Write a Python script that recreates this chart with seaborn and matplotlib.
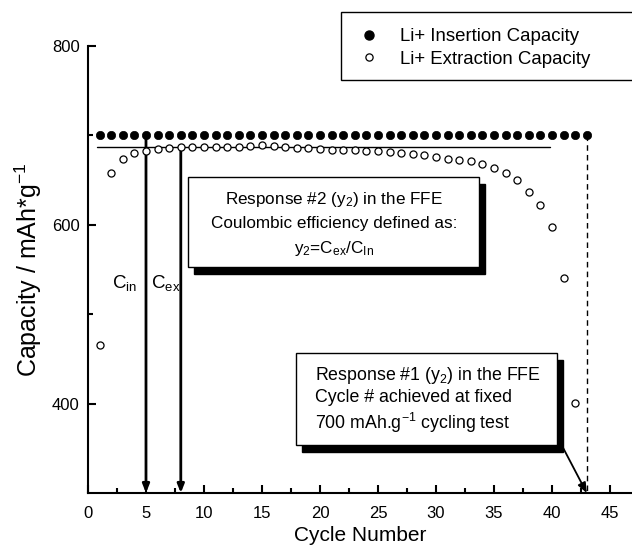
import numpy as np
import pandas as pd
import matplotlib
matplotlib.use("Agg")
import matplotlib.pyplot as plt
from matplotlib.patches import Rectangle
from matplotlib.lines import Line2D
import seaborn as sns

# ---- data ----
insertion_cycles = list(range(1, 44))
insertion_capacity = [700] * 43
extraction_cycles = list(range(1, 43))
extraction_capacity = [465, 658, 674, 680, 683, 685, 686, 687, 687, 687,
                       687, 687, 687, 688, 689, 688, 687, 686, 686, 685,
                       684, 684, 684, 683, 683, 681, 680, 679, 678, 676,
                       674, 673, 671, 668, 663, 658, 650, 637, 622, 598,
                       541, 401]
x_ticks = [0, 5, 10, 15, 20, 25, 30, 35, 40, 45]
y_ticks = [400, 600, 800]
legend_labels = ["Li+ Insertion Capacity", "Li+ Extraction Capacity"]

sns.set_style("ticks")
plt.rcParams["font.family"] = ["Liberation Sans", "DejaVu Sans"]
plt.rcParams["mathtext.fontset"] = "custom"
plt.rcParams["mathtext.rm"] = "Liberation Sans"
plt.rcParams["mathtext.it"] = "Liberation Sans:italic"
plt.rcParams["mathtext.bf"] = "Liberation Sans:bold"
plt.rcParams["text.color"] = "black"
plt.rcParams["axes.labelcolor"] = "black"
plt.rcParams["xtick.color"] = "black"
plt.rcParams["ytick.color"] = "black"
plt.rcParams["axes.edgecolor"] = "black"

fig = plt.figure(figsize=(6.32, 5.45), dpi=100)
ax = fig.add_axes([88 / 632, 1 - 493 / 545, 1 - 88 / 632, (493 - 46) / 545])

df_in = pd.DataFrame({"cycle": insertion_cycles, "cap": insertion_capacity})
df_ex = pd.DataFrame({"cycle": extraction_cycles, "cap": extraction_capacity})

sns.scatterplot(data=df_in, x="cycle", y="cap", ax=ax, marker="o", s=36,
                color="black", edgecolor="black", linewidth=0.5, zorder=5)
sns.scatterplot(data=df_ex, x="cycle", y="cap", ax=ax, marker="o", s=26,
                facecolor="white", edgecolor="black", linewidth=0.9, zorder=5)

ax.set_xlim(0, 46.9)
ax.set_ylim(300, 800)
ax.set_xticks(x_ticks)
ax.set_yticks(y_ticks)
ax.set_xticks(np.arange(2.5, 46, 5), minor=True)
ax.set_yticks([500, 700], minor=True)
ax.tick_params(axis="both", which="major", direction="in", length=6, width=1.5,
               labelsize=12, colors="black")
ax.tick_params(axis="x", which="major", pad=9)
ax.tick_params(axis="y", which="major", pad=6)
ax.tick_params(axis="both", which="minor", direction="in", length=3.5, width=1.5,
               colors="black")
for s in ["top", "right"]:
    ax.spines[s].set_visible(False)
for s in ["left", "bottom"]:
    ax.spines[s].set_linewidth(1.5)
    ax.spines[s].set_color("black")
ax.set_xlabel("Cycle Number", fontsize=15, labelpad=4)
ax.set_ylabel("Capacity / mAh*g$^{-1}$", fontsize=18, labelpad=6)

# reference line for extraction plateau
ax.plot([0.8, 39.8], [687, 687], color="black", lw=1.0, zorder=3)
# dashed drop line at final cycle
ax.plot([43, 43], [700, 300], color="black", lw=1.0, ls=(0, (4, 3)), zorder=3)

# C_in / C_ex arrows
arrow_kw = dict(arrowstyle="-|>,head_length=0.5,head_width=0.2", color="black", lw=2.0,
                shrinkA=0, shrinkB=0)
ax.annotate("", xy=(5, 300), xytext=(5, 700), arrowprops=arrow_kw, zorder=4)
ax.annotate("", xy=(8, 300), xytext=(8, 687), arrowprops=arrow_kw, zorder=4)
ax.text(2.1, 535, "C$_{\\mathregular{in}}$", fontsize=13.5, va="center", ha="left")
ax.text(5.4, 535, "C$_{\\mathregular{ex}}$", fontsize=13.5, va="center", ha="left")

px = 46.9 / (632 - 88)   # data units per pixel in x
py = 500 / (493 - 46)    # data units per pixel in y


def shadow_box(x0, x1, y0, y1):
    ax.add_patch(Rectangle((x0 + 6 * px, y0 - 7 * py), x1 - x0, y1 - y0,
                           facecolor="black", edgecolor="black", zorder=6))
    ax.add_patch(Rectangle((x0, y0), x1 - x0, y1 - y0,
                           facecolor="white", edgecolor="black", lw=1.0, zorder=7))


# Box 1 (Response #2)
shadow_box(8.6, 33.7, 553, 653.6)
ax.text(21.2, 601,
        "Response #2 (y$_{\\mathregular{2}}$) in the FFE\n"
        "Coulombic efficiency defined as:\n"
        "y$_{\\mathregular{2}}$=C$_{\\mathregular{ex}}$/C$_{\\mathregular{In}}$",
        ha="center", va="center", fontsize=12.3, linespacing=1.55, zorder=8,
        multialignment="center")

# Box 2 (Response #1)
shadow_box(17.9, 40.4, 354, 457)
ax.text(19.6, 404,
        "Response #1 (y$_{\\mathregular{2}}$) in the FFE\n"
        "Cycle # achieved at fixed\n"
        "700 mAh.g$^{\\mathregular{-1}}$ cycling test",
        ha="left", va="center", fontsize=12.8, linespacing=1.25, zorder=8)
ax.annotate("", xy=(43, 300), xytext=(40.9, 352),
            arrowprops=dict(arrowstyle="-|>,head_length=0.6,head_width=0.25",
                            color="black", lw=1.3, shrinkA=0, shrinkB=0), zorder=8)

# legend (frame extends past the right edge like the reference)
fig.patches.append(Rectangle((341 / 632, 1 - 80 / 545), 0.5, 68 / 545,
                             transform=fig.transFigure, facecolor="white",
                             edgecolor="black", lw=1.0, zorder=1))
handles = [
    Line2D([], [], ls="none", marker="o", ms=6.5, mfc="black", mec="black"),
    Line2D([], [], ls="none", marker="o", ms=5.2, mfc="white", mec="black", mew=0.9),
]
leg = fig.legend(handles, legend_labels,
                 loc="upper left", bbox_to_anchor=(355 / 632, 1 - 28 / 545),
                 fontsize=13.4, frameon=False, borderpad=0,
                 handletextpad=0.9, labelspacing=0.3, borderaxespad=0,
                 handlelength=1.5)

fig.savefig("out.png", dpi=100)
